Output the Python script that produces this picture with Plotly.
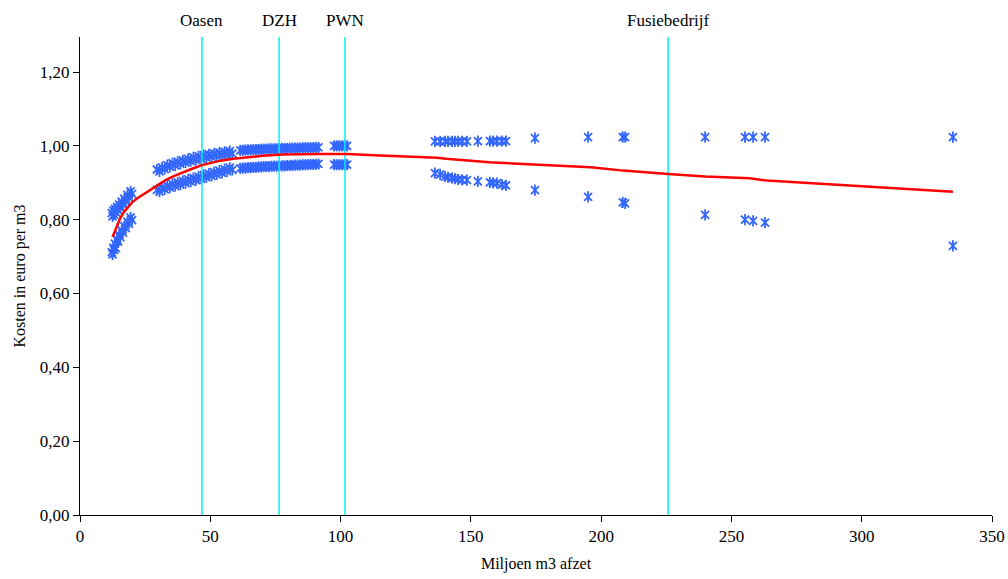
import plotly.graph_objects as go

# ---- data ----
x_vals = [
    # cluster 1
    12.2, 12.5, 12.8, 13.1, 13.4, 13.8, 14.2, 14.6, 15.0, 15.5, 16.0, 16.5, 17.0, 17.6, 18.2, 18.8, 19.4, 20.0,
    # cluster 2
    29.5, 30.5, 31.5, 32.5, 33.5, 34.5, 35.5, 36.5, 37.5, 38.5, 39.5, 40.5, 41.5, 42.5, 43.5, 44.5,
    45.5, 46.5, 47.5, 48.5, 49.5, 50.5, 51.5, 52.5, 53.5, 54.5, 55.5, 56.5, 57.5, 58.5,
    # cluster 3
    61.5, 62.5, 63.5, 64.5, 65.5, 66.5, 67.5, 68.5, 69.5, 70.5, 71.5, 72.5, 73.5, 74.5, 75.5, 76.5,
    77.5, 78.5, 79.5, 80.5, 81.5, 82.5, 83.5, 84.5, 85.5, 86.5, 87.5, 88.5, 89.5, 90.5, 91.5,
    # cluster 4
    97.5, 98.5, 99.5, 100.5, 101.5, 102.5,
    # sparse
    136.2, 138.2, 140.1, 141.2, 142.8, 143.9, 145.1, 146.6, 148.5, 152.7, 157.3, 158.5, 160.0, 161.9, 163.5,
    174.6, 195.0, 208.3, 209.2, 239.9, 255.2, 258.3, 262.9, 335.0,
]

upper_cost = [
    0.818, 0.809, 0.824, 0.814, 0.829, 0.820, 0.835, 0.826, 0.841, 0.833, 0.849, 0.841, 0.857, 0.850, 0.867, 0.860, 0.877, 0.870,
    0.936, 0.931, 0.942, 0.937, 0.948, 0.943, 0.953, 0.947, 0.957, 0.951, 0.961, 0.955, 0.965, 0.959, 0.969, 0.962,
    0.972, 0.965, 0.975, 0.968, 0.977, 0.971, 0.980, 0.973, 0.982, 0.975, 0.984, 0.977, 0.986, 0.979,
    0.988, 0.988, 0.989, 0.989, 0.989, 0.990, 0.990, 0.990, 0.991, 0.991, 0.991, 0.992, 0.992, 0.992, 0.992, 0.993,
    0.993, 0.993, 0.993, 0.994, 0.994, 0.994, 0.994, 0.994, 0.995, 0.995, 0.995, 0.995, 0.995, 0.996, 0.996,
    1.000, 1.000, 1.000, 1.000, 1.000, 1.000,
    1.012, 1.012, 1.012, 1.012, 1.012, 1.012, 1.012, 1.012, 1.012, 1.013, 1.013, 1.013, 1.013, 1.013, 1.013,
    1.021, 1.024, 1.024, 1.024, 1.024, 1.024, 1.024, 1.024, 1.024,
]

lower_cost = [
    0.712, 0.706, 0.724, 0.718, 0.735, 0.723, 0.747, 0.741, 0.759, 0.753, 0.771, 0.765, 0.783, 0.777, 0.795, 0.789, 0.806, 0.799,
    0.881, 0.876, 0.887, 0.882, 0.892, 0.887, 0.897, 0.891, 0.901, 0.895, 0.905, 0.899, 0.909, 0.903, 0.913, 0.907,
    0.917, 0.911, 0.921, 0.915, 0.925, 0.919, 0.929, 0.923, 0.933, 0.927, 0.937, 0.931, 0.941, 0.935,
    0.939, 0.940, 0.940, 0.941, 0.941, 0.942, 0.942, 0.943, 0.943, 0.944, 0.944, 0.944, 0.945, 0.945, 0.945, 0.946,
    0.946, 0.946, 0.947, 0.947, 0.947, 0.948, 0.948, 0.948, 0.949, 0.949, 0.949, 0.950, 0.950, 0.950, 0.951,
    0.949, 0.949, 0.949, 0.949, 0.949, 0.949,
    0.926, 0.923, 0.917, 0.915, 0.913, 0.911, 0.909, 0.908, 0.907, 0.904, 0.901, 0.900, 0.899, 0.895, 0.893,
    0.880, 0.862, 0.847, 0.844, 0.813, 0.800, 0.797, 0.792, 0.729,
]

# red average-cost curve
curve_x = [12.5, 14, 15.5, 17, 18.5, 20, 22, 24, 26, 28, 30, 33, 36, 40, 43, 46.8, 50, 54, 58.8, 64, 70,
           77.5, 85, 92, 102.5, 107.5, 115, 125, 137, 140.5, 148.5, 157, 170, 196, 208.5, 215, 225.7,
           240, 257, 263.6, 280, 300, 320, 335]
curve_y = [0.753, 0.780, 0.805, 0.822, 0.836, 0.847, 0.858, 0.867, 0.876, 0.886, 0.896, 0.908, 0.918, 0.930,
           0.938, 0.948, 0.954, 0.960, 0.965, 0.969, 0.973, 0.977, 0.978, 0.978, 0.978, 0.976, 0.974, 0.971,
           0.968, 0.965, 0.960, 0.956, 0.951, 0.942, 0.933, 0.929, 0.924, 0.917, 0.912, 0.906, 0.899, 0.891,
           0.882, 0.876]

company_names = ["Oasen", "DZH", "PWN", "Fusiebedrijf"]
company_volume = [46.8, 76.4, 101.7, 225.7]

x_ticks = [0, 50, 100, 150, 200, 250, 300, 350]
y_ticks = [0.0, 0.2, 0.4, 0.6, 0.8, 1.0, 1.2]

Y_MAX = 1.295
BLUE = "#3366FF"
CYAN = "#00F0F5"
FONT = "Liberation Serif"

fig = go.Figure()

pts_x = x_vals + x_vals
pts_y = upper_cost + lower_cost
for sym in ["x-thin-open", "line-ns-open"]:
    fig.add_trace(go.Scatter(
        x=pts_x, y=pts_y, mode="markers",
        marker=dict(symbol=sym, size=8, color=BLUE, line=dict(color=BLUE, width=1.8)),
        showlegend=False, hoverinfo="x+y",
    ))

for name, v in zip(company_names, company_volume):
    fig.add_trace(go.Scatter(
        x=[v, v], y=[0, Y_MAX], mode="lines",
        line=dict(color=CYAN, width=1.5), showlegend=False, name=name,
    ))
    fig.add_annotation(
        x=v, y=1, xref="x", yref="paper", text=name, showarrow=False,
        yanchor="bottom", yshift=5, font=dict(family=FONT, size=17, color="black"),
    )

fig.add_trace(go.Scatter(
    x=curve_x, y=curve_y, mode="lines",
    line=dict(color="#FF0000", width=2.5), showlegend=False,
))

fig.update_layout(
    width=1008, height=579,
    margin=dict(l=80, r=16, t=37, b=64),
    paper_bgcolor="white", plot_bgcolor="white",
    separators=",.",
    font=dict(family=FONT, size=16, color="black"),
    xaxis=dict(
        range=[0, 350], tickvals=x_ticks, ticks="outside", ticklen=6, tickcolor="black",
        showline=True, linecolor="black", linewidth=1, showgrid=False, zeroline=False,
        automargin=False,
        title=dict(text="Miljoen m3 afzet", font=dict(family=FONT, size=16), standoff=12),
        tickfont=dict(family=FONT, size=17),
    ),
    yaxis=dict(
        range=[0, Y_MAX], tickvals=y_ticks, tickformat=".2f", ticks="outside", ticklen=6,
        tickcolor="black", showline=True, linecolor="black", linewidth=1, showgrid=False,
        zeroline=False, automargin=False,
        title=dict(text="Kosten in euro per m3", font=dict(family=FONT, size=16), standoff=10),
        tickfont=dict(family=FONT, size=17),
    ),
)

fig.write_html("out.html")
